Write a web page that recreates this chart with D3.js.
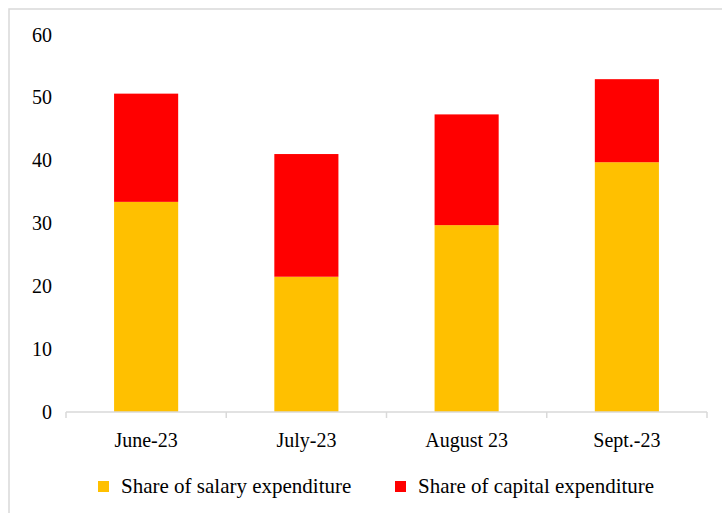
<!DOCTYPE html>
<html><head><meta charset="utf-8">
<script src="https://cdn.jsdelivr.net/npm/d3@7"></script>
<style>html,body{margin:0;padding:0;background:#fff;}svg{display:block;}</style>
</head><body>
<svg id="c" width="722" height="513"></svg>
<script>
const categories = ["June-23", "July-23", "August 23", "Sept.-23"];
const salaryShare = [33.4, 21.5, 29.7, 39.7];
const capitalShare = [17.2, 19.5, 17.6, 13.2];
const yTicks = [0, 10, 20, 30, 40, 50, 60];
const seriesNames = ["Share of salary expenditure", "Share of capital expenditure"];
const seriesColors = ["#FFC000", "#FF0000"];

const svg = d3.select("#c");
const font = "'Liberation Serif','Times New Roman',serif";

// outer border
svg.append("rect").attr("x", 9).attr("y", 9).attr("width", 730).attr("height", 520)
  .attr("fill", "#fff").attr("stroke", "#d9d9d9").attr("stroke-width", 1.5);

const x = d3.scaleBand().domain(categories).range([66, 707]).paddingInner(0.6).paddingOuter(0.3);
const y = d3.scaleLinear().domain([0, 60]).range([412, 34.5]);

const rows = categories.map((c, i) => ({cat: c, salary: salaryShare[i], capital: capitalShare[i]}));
const stack = d3.stack().keys(["salary", "capital"])(rows);

svg.append("g").selectAll("g").data(stack).join("g")
  .attr("fill", (d, i) => seriesColors[i])
  .selectAll("rect").data(d => d).join("rect")
  .attr("x", d => x(d.data.cat))
  .attr("width", x.bandwidth())
  .attr("y", d => y(d[1]))
  .attr("height", d => y(d[0]) - y(d[1]));

// x axis line and band ticks
const band = d3.scaleBand().domain(categories).range([66, 707]);
const axis = svg.append("g");
axis.append("line").attr("x1", 66).attr("x2", 707).attr("y1", y(0)).attr("y2", y(0))
  .attr("stroke", "#d9d9d9").attr("stroke-width", 1.5);
const edges = categories.map(c => band(c)).concat([707]);
axis.selectAll("line.t").data(edges).join("line").attr("class", "t")
  .attr("x1", d => d).attr("x2", d => d).attr("y1", y(0)).attr("y2", y(0) + 6)
  .attr("stroke", "#d9d9d9").attr("stroke-width", 1.5);
axis.selectAll("text").data(categories).join("text")
  .attr("x", d => band(d) + band.bandwidth() / 2).attr("y", 447)
  .attr("text-anchor", "middle").attr("font-family", font).attr("font-size", 20)
  .attr("fill", "#000").text(d => d);

// y labels
svg.append("g").selectAll("text").data(yTicks).join("text")
  .attr("x", 52).attr("y", d => y(d)).attr("dy", "0.35em")
  .attr("text-anchor", "end").attr("font-family", font).attr("font-size", 20)
  .attr("fill", "#000").text(d => d);

// legend
const legX = [98, 395];
const leg = svg.append("g").selectAll("g").data(seriesNames).join("g");
leg.append("rect").attr("x", (d, i) => legX[i]).attr("y", 481).attr("width", 11).attr("height", 11)
  .attr("fill", (d, i) => seriesColors[i]);
leg.append("text").attr("x", (d, i) => legX[i] + 23).attr("y", 493)
  .attr("font-family", font).attr("font-size", 21).attr("fill", "#000").text(d => d);
</script>
</body></html>
